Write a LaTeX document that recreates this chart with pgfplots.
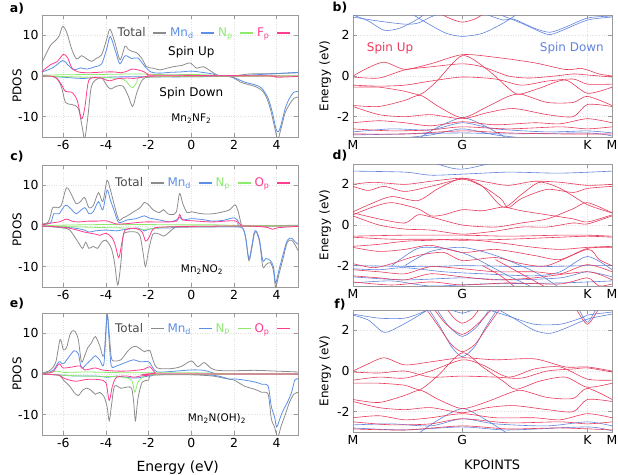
\documentclass[border=0pt]{standalone}
\usepackage{fontspec}
\setmainfont{DejaVu Sans}
\usepackage{pgfplots}
\pgfplotsset{compat=1.18}
\definecolor{ctot}{HTML}{8C8C8C}
\definecolor{ctxt}{HTML}{4A4A4A}
\definecolor{cmn}{HTML}{5B8FE8}
\definecolor{cnp}{HTML}{8CEB6E}
\definecolor{cxp}{HTML}{FF3D8F}
\definecolor{cup}{HTML}{E8395A}
\definecolor{cdn}{HTML}{5F82DC}
\definecolor{cframe}{HTML}{9A9A9A}
\definecolor{cgrid}{HTML}{E0E0E0}
\pgfplotsset{
  base/.style={scale only axis, axis line style={cframe}, tick style={cframe, line width=0.6pt},
    major tick length=4bp, tick align=inside, grid=major, grid style={cgrid, dotted, line width=0.5pt},
    /pgf/number format/assume math mode=true,
    ticklabel style={font=\fontsize{12.5}{14}\selectfont},
    label style={font=\fontsize{12}{14}\selectfont}},
  dos/.style={base, width=256bp, height=122bp, xmin=-7, xmax=5, ymin=-15, ymax=15,
    xtick={-6,-4,-2,0,2,4}, ytick={-10,0,10}, ylabel={PDOS},
    legend columns=4, legend plot pos=right,
    legend style={draw=none, fill=none, font=\fontsize{12}{14}\selectfont,
      /tikz/every even column/.append style={column sep=1bp},
      /tikz/every odd column/.append style={column sep=5bp}},
    legend image code/.code={\draw[##1, line width=1.5pt] (0bp,0bp) -- (13bp,0bp);}},
  band/.style={base, width=259bp, height=122bp, xmin=0, xmax=1, ymin=-3, ymax=3,
    xtick={0,0.422,0.905,1}, xticklabels={M,G,K,M}, ytick={-2,0,2}, ylabel={Energy (eV)},
    ylabel style={at={(axis description cs:-0.108,0.5)}, anchor=center}},
  tot/.style={ctot, line width=0.8pt, smooth, tension=0.5},
  mnd/.style={cmn, line width=0.8pt, smooth, tension=0.5},
  npp/.style={cnp, line width=0.8pt, smooth, tension=0.5},
  xpp/.style={cxp, line width=0.8pt, smooth, tension=0.5},
  up/.style={cup, line width=0.6pt, smooth, tension=0.45},
  dn/.style={cdn, line width=0.6pt, smooth, tension=0.45},
}
\begin{document}
\begin{tikzpicture}
\path[use as bounding box] (0bp,0bp) rectangle (618bp,-475bp);
% panel labels
\node[font=\bfseries\fontsize{12.5}{14}\selectfont] at (17bp,-9bp) {a)};
\node[font=\bfseries\fontsize{12.5}{14}\selectfont] at (17bp,-157bp) {c)};
\node[font=\bfseries\fontsize{12.5}{14}\selectfont] at (17bp,-304bp) {e)};
\node[font=\bfseries\fontsize{12.5}{14}\selectfont] at (340bp,-8bp) {b)};
\node[font=\bfseries\fontsize{12.5}{14}\selectfont] at (340bp,-156bp) {d)};
\node[font=\bfseries\fontsize{12.5}{14}\selectfont] at (340bp,-305bp) {f)};

%================ a) =================
\begin{axis}[dos, at={(42bp,-15bp)}, anchor=north west,
  ylabel style={at={(axis description cs:-0.098,0.42)}, anchor=center},
  legend style={at={(0.985,0.93)}, anchor=north east}]
\addplot[tot] coordinates {(-7.05,2.75)(-6.63,7.3)(-6.39,8.6)(-6.2,9.8)(-6.03,12.2)(-5.84,10.7)(-5.6,6.5)(-5.38,4.2)(-5.14,5.0)(-4.9,4.2)(-4.67,3.6)(-4.44,4.4)(-4.2,5.25)(-3.97,9)(-3.81,11.5)(-3.58,8.2)(-3.34,4)(-3.11,7.3)(-2.95,6.5)(-2.8,6.1)(-2.56,5.7)(-2.33,4.4)(-2.1,2.3)(-1.78,1.9)(-1.47,1.5)(-1.16,1.9)(-0.84,2.3)(-0.45,2.6)(-0.06,3.2)(0.25,1.9)(0.56,2.3)(1.03,0.8)(1.34,0)(1.97,0)(2.75,0.5)(4,0.6)(5,0.8)};
\addlegendentry{\textcolor{ctxt}{Total}}
\addplot[mnd] coordinates {(-7.05,0.9)(-6.5,2.0)(-6.03,3.8)(-5.8,2.8)(-5.5,1.5)(-5.2,2.0)(-4.9,1.7)(-4.5,2.3)(-4.2,3.0)(-3.95,7)(-3.8,9.7)(-3.55,6.0)(-3.35,3.0)(-3.1,5)(-2.8,4.3)(-2.5,4.4)(-2.2,2.5)(-1.9,1.0)(-1.5,0.7)(-1,0.9)(-0.5,1.0)(0,1.2)(0.5,0.9)(1.0,0.5)(1.4,0)(2,0)(3,0.3)(5,0.9)};
\addlegendentry{\textcolor{cmn}{Mn\textsubscript{d}}}
\addplot[npp] coordinates {(-7,0.2)(-6,0.3)(-4,0.4)(-2.5,0.5)(-1,0.3)(0,0.4)(1,0.2)(2,0)(5,0.05)};
\addlegendentry{\textcolor{cnp}{N\textsubscript{p}}}
\addplot[xpp] coordinates {(-7.05,0.9)(-6.6,2.8)(-6.3,3.5)(-6.0,5.3)(-5.8,4.5)(-5.6,2.0)(-5.3,1.0)(-4.8,0.8)(-4.0,1.0)(-3.6,1.0)(-3.3,0.8)(-3.0,1.2)(-2.8,1.7)(-2.5,1.5)(-2.2,1.0)(-2.0,0.3)(-1.5,0.2)(5,0)};
\addlegendentry{\textcolor{cxp}{F\textsubscript{p}}}
\addplot[tot, forget plot] coordinates {(-7.05,0)(-6.4,-0.3)(-6.1,-2.5)(-5.9,-6.5)(-5.6,-7.0)(-5.3,-8.0)(-5.1,-13)(-5.0,-15.5)(-4.85,-10)(-4.7,-3)(-4.5,-1)(-4.2,-0.5)(-4.0,-2.0)(-3.8,-3.2)(-3.5,-2.5)(-3.2,-2.5)(-2.95,-5)(-2.75,-7.5)(-2.55,-4)(-2.3,-1)(-2.0,-0.3)(-1,-0.2)(0,-0.2)(1,-0.1)(1.6,0)(2.0,-0.5)(2.3,-1.5)(2.6,-2.0)(3.0,-2.6)(3.3,-3.5)(3.5,-5)(3.7,-8)(3.9,-12.5)(4.05,-15.5)(4.2,-13)(4.4,-9)(4.6,-7)(4.8,-5.5)(5.0,-5.2)};
\addplot[mnd, forget plot] coordinates {(-7,0)(-6,-0.3)(-5.5,-0.5)(-5,-0.6)(-4.5,-0.3)(-4,-0.3)(-3,-0.2)(0,-0.2)(1.6,0)(2.0,-0.4)(2.5,-1.5)(3.0,-2.2)(3.3,-3)(3.6,-5.5)(3.8,-9)(4.0,-13.5)(4.15,-13)(4.4,-8)(4.6,-5.5)(4.8,-4)(5.0,-3.8)};
\addplot[npp, forget plot] coordinates {(-7,0)(-5,-0.3)(-4,-0.4)(-3.2,-0.8)(-2.95,-2.0)(-2.75,-2.9)(-2.55,-1.5)(-2.3,-0.3)(0,-0.1)(5,0)};
\addplot[xpp, forget plot] coordinates {(-7,0)(-6.4,-0.2)(-6.1,-2.0)(-5.9,-3.8)(-5.6,-4.0)(-5.35,-6)(-5.15,-10.5)(-5.0,-8)(-4.85,-2)(-4.7,-0.5)(-4.2,-0.5)(-4.0,-1.0)(-3.8,-1.2)(-3.5,-0.7)(-3.0,-0.5)(-2.7,-0.6)(-2.3,-0.3)(-1.5,0)(3.5,0)(4,-0.3)(5,-0.1)};
\node[font=\fontsize{12}{14}\selectfont] at (axis cs:0,5.75) {Spin Up};
\node[font=\fontsize{12}{14}\selectfont] at (axis cs:0,-4.2) {Spin Down};
\node[font=\fontsize{10.5}{12}\selectfont] at (axis cs:0,-10.5) {Mn\textsubscript{2}NF\textsubscript{2}};
\end{axis}

%================ c) =================
\begin{axis}[dos, at={(42bp,-165bp)}, anchor=north west,
  ylabel style={at={(axis description cs:-0.098,0.47)}, anchor=center},
  legend style={at={(0.985,0.93)}, anchor=north east}]
\addplot[tot] coordinates {(-7.05,0.5)(-6.7,1.0)(-6.5,4.5)(-6.3,4.5)(-6.1,5)(-5.85,9.4)(-5.6,7.5)(-5.4,5.5)(-5.2,6.0)(-5.0,7)(-4.8,4.5)(-4.6,5)(-4.35,8.2)(-4.15,6)(-3.95,11.2)(-3.8,9)(-3.6,5)(-3.4,1.5)(-3.2,2)(-3.0,2.5)(-2.7,3.5)(-2.4,4.5)(-2.2,5.8)(-2.0,5.2)(-1.8,4)(-1.5,3.3)(-1.3,4.0)(-1.1,3.0)(-0.9,2.8)(-0.7,3.5)(-0.55,8)(-0.4,5.5)(-0.2,3.3)(0,3.5)(0.5,3)(1.0,3)(1.5,3.5)(1.8,4)(2.05,5.2)(2.2,3.5)(2.35,0.3)(2.5,0)(5,0.2)};
\addlegendentry{\textcolor{ctxt}{Total}}
\addplot[mnd] coordinates {(-7.05,0.3)(-6.6,0.8)(-6.45,3.0)(-6.2,3.0)(-5.9,5.1)(-5.6,4.0)(-5.4,3.0)(-5.0,4.5)(-4.8,3.0)(-4.6,3.5)(-4.35,6.0)(-4.15,4.0)(-3.95,8.8)(-3.8,6.5)(-3.6,3.5)(-3.4,0.9)(-3.0,1.5)(-2.6,1.8)(-2.2,2.5)(-2.0,2.0)(-1.5,1.5)(-1.0,1.0)(-0.7,1.5)(-0.55,2.2)(-0.4,1.5)(0,1.8)(0.5,1.6)(1.0,1.2)(1.5,1.4)(2.0,2.0)(2.2,1.2)(2.4,0)(5,0.1)};
\addlegendentry{\textcolor{cmn}{Mn\textsubscript{d}}}
\addplot[npp] coordinates {(-7,0.1)(-5,0.3)(-3,0.4)(-1,0.3)(1,0.3)(2.4,0.1)(5,0)};
\addlegendentry{\textcolor{cnp}{N\textsubscript{p}}}
\addplot[xpp] coordinates {(-7.05,0.2)(-6.5,0.8)(-6.2,1.0)(-5.85,1.7)(-5.6,1.2)(-5.3,1.0)(-4.8,1.2)(-4.4,1.2)(-4.0,1.3)(-3.5,0.5)(-3.0,0.6)(-2.2,1.0)(-1.5,1.0)(-0.7,1.2)(-0.55,2.8)(-0.4,1.5)(0,1.3)(1.0,1.0)(2.0,1.3)(2.3,0.4)(2.5,0)(5,0)};
\addlegendentry{\textcolor{cxp}{O\textsubscript{p}}}
\addplot[tot, forget plot] coordinates {(-7.05,0)(-6.5,-0.2)(-6.0,-0.5)(-5.7,-1)(-5.3,-4)(-5.1,-5.5)(-4.95,-4)(-4.8,-5.5)(-4.6,-5)(-4.4,-5.5)(-4.2,-4)(-4.0,-3.5)(-3.75,-5.5)(-3.6,-9)(-3.45,-14.5)(-3.3,-9)(-3.2,-2.5)(-3.0,-1.5)(-2.6,-1.5)(-2.4,-2.5)(-2.25,-7)(-2.15,-10)(-2.0,-6)(-1.8,-2)(-1.5,-2)(-1.3,-2.5)(-1.1,-1.8)(-0.8,-0.5)(-0.5,-0.3)(2.0,-0.2)(2.4,-0.5)(2.55,-3)(2.7,-8.5)(2.85,-5)(2.95,-2)(3.05,-1.5)(3.2,-4)(3.35,-10)(3.5,-9.5)(3.7,-9)(3.85,-11)(3.95,-15)(4.1,-12)(4.3,-8)(4.5,-4)(4.7,-3.5)(4.85,-4.5)(5.0,-6)};
\addplot[mnd, forget plot] coordinates {(-7,0)(-6,-0.3)(-5.5,-0.5)(-5,-1)(-4.8,-1.5)(-4.5,-1.2)(-4.0,-1.0)(-3.5,-1.2)(-3.3,-1.0)(-3.0,-0.8)(-2.5,-0.5)(-2.2,-1.2)(-2.0,-0.8)(-1.5,-0.5)(-1.0,-0.5)(-0.5,-0.2)(2.0,-0.2)(2.4,-0.5)(2.55,-3)(2.7,-8)(2.85,-4.5)(2.95,-1.5)(3.05,-1.3)(3.2,-3.5)(3.35,-8.5)(3.5,-8)(3.7,-8.5)(3.85,-10)(3.95,-14)(4.1,-11)(4.3,-7)(4.5,-3.5)(4.7,-3)(4.85,-3.8)(5.0,-4.5)};
\addplot[npp, forget plot] coordinates {(-7,0)(-4,-0.4)(-3,-0.5)(-2.2,-0.8)(-1,-0.2)(0,0)(5,0)};
\addplot[xpp, forget plot] coordinates {(-7,0)(-6,-0.3)(-5.5,-0.8)(-5,-1.5)(-4.5,-2.0)(-4.3,-2.3)(-4.0,-1.8)(-3.7,-3.0)(-3.55,-5)(-3.4,-7.8)(-3.25,-4)(-3.1,-1)(-2.6,-0.6)(-2.3,-1.5)(-2.15,-3.7)(-2.0,-3.0)(-1.8,-0.8)(-1.5,-0.3)(0,-0.1)(2.5,0)(3.5,-0.3)(3.8,-0.8)(4.1,-0.4)(5,-0.1)};
\node[font=\fontsize{10.5}{12}\selectfont] at (axis cs:0.5,-10.7) {Mn\textsubscript{2}NO\textsubscript{2}};
\end{axis}

%================ e) =================
\begin{axis}[dos, at={(42bp,-313bp)}, anchor=north west,
  ylabel style={at={(axis description cs:-0.098,0.5)}, anchor=center},
  xlabel={Energy (eV)},
  xlabel style={at={(axis description cs:0.53,-0.267)}, anchor=center, font=\fontsize{14}{16}\selectfont},
  legend style={at={(0.985,0.95)}, anchor=north east}]
\addplot[tot] coordinates {(-7,0.2)(-6.6,1.0)(-6.35,3.0)(-6.15,8.5)(-6.0,6.0)(-5.85,6.5)(-5.7,9.5)(-5.6,10.5)(-5.45,10.5)(-5.3,8.5)(-5.15,3)(-5.0,4.5)(-4.85,6.5)(-4.7,7.5)(-4.5,9.2)(-4.3,7.0)(-4.1,4.5)(-3.95,14.5)(-3.85,10)(-3.75,4)(-3.6,3.2)(-3.3,3.5)(-3.0,5.5)(-2.8,6.5)(-2.6,6.8)(-2.4,6.2)(-2.2,5.5)(-1.95,5.8)(-1.8,3.5)(-1.6,1.5)(-1.0,1.3)(-0.5,1.8)(0.0,3.2)(0.3,1.8)(0.6,2.8)(0.9,1.5)(1.1,1.0)(1.5,0.8)(2,0.8)(3,0.9)(4,0.7)(5,0.5)};
\addlegendentry{\textcolor{ctxt}{Total}}
\addplot[mnd] coordinates {(-7,0.1)(-6.5,0.8)(-6.2,3.0)(-6.0,2.5)(-5.7,4.5)(-5.5,5.7)(-5.3,5)(-5.15,1.5)(-4.9,2.5)(-4.7,3.5)(-4.5,4.5)(-4.3,3.5)(-4.1,2.5)(-3.95,14.5)(-3.85,8)(-3.75,2)(-3.5,2.0)(-3.0,3)(-2.7,3.5)(-2.4,3.0)(-2.0,3.0)(-1.8,1.5)(-1.6,0.5)(-1.0,0.6)(0,1.0)(0.6,0.9)(1.0,0.3)(1.5,0)(5,0)};
\addlegendentry{\textcolor{cmn}{Mn\textsubscript{d}}}
\addplot[npp] coordinates {(-7,0)(-6.3,0.7)(-6.0,0.4)(-5,0.5)(-4,0.4)(-3,0.3)(-2,0.3)(-1,0.3)(0,0.3)(1,0.2)(2,0)(5,0)};
\addlegendentry{\textcolor{cnp}{N\textsubscript{p}}}
\addplot[xpp] coordinates {(-7,0.1)(-6.5,0.5)(-6.2,2.5)(-6.0,1.5)(-5.5,1.8)(-5.2,2.0)(-5.0,1.0)(-4.5,1.5)(-4.2,1.0)(-3.8,0.8)(-3.3,0.7)(-2.8,0.8)(-2.2,1.2)(-1.95,1.8)(-1.7,0.3)(-1.5,0)(5,0)};
\addlegendentry{\textcolor{cxp}{O\textsubscript{p}}}
\addplot[tot, forget plot] coordinates {(-7,0)(-6.2,-0.3)(-6.0,-1.5)(-5.7,-3)(-5.5,-4.5)(-5.3,-5.3)(-5.1,-4.0)(-4.9,-3.5)(-4.7,-4)(-4.5,-5)(-4.3,-4.5)(-4.1,-5.5)(-3.95,-8)(-3.85,-11.5)(-3.75,-8)(-3.6,-3)(-3.3,-3.5)(-3.0,-3.2)(-2.8,-3.5)(-2.7,-7)(-2.62,-11.5)(-2.5,-6)(-2.3,-2)(-2.0,-1.5)(-1.8,-0.3)(0,-0.2)(1.0,-0.5)(1.5,-1.0)(2.0,-1.5)(2.5,-3.0)(3.0,-3.8)(3.3,-4.5)(3.6,-5)(3.75,-11)(3.9,-13)(4.05,-15.5)(4.2,-13)(4.4,-10)(4.6,-7)(4.8,-5)(5,-4.5)};
\addplot[mnd, forget plot] coordinates {(-7,0)(-6,-0.3)(-5.5,-0.5)(-4.5,-0.5)(-3.9,-0.8)(-3.5,-0.5)(-2.7,-1.0)(-2.0,-0.5)(-1.8,-0.2)(0,-0.1)(1.0,-0.3)(1.5,-0.8)(1.8,-1.3)(2.0,-1.2)(2.5,-1.5)(3.0,-2)(3.3,-2.5)(3.6,-3.0)(3.75,-8)(3.9,-10.5)(4.0,-13)(4.15,-11)(4.3,-9)(4.5,-7)(4.7,-4.5)(4.85,-1.5)(5,-1.2)};
\addplot[npp, forget plot] coordinates {(-7,0)(-6,-0.3)(-5,-0.5)(-4,-0.6)(-3.2,-0.8)(-2.8,-1.5)(-2.65,-4.5)(-2.5,-2)(-2.2,-0.5)(-1.8,-0.1)(5,0)};
\addplot[xpp, forget plot] coordinates {(-7,0)(-6.2,-0.3)(-6.0,-1.0)(-5.7,-1.5)(-5.4,-1.8)(-5.1,-1.5)(-4.8,-1.3)(-4.3,-1.4)(-4.0,-2.2)(-3.85,-6.5)(-3.7,-3)(-3.5,-0.8)(-3.0,-0.5)(-2.7,-0.8)(-2.4,-0.5)(-2.0,-0.3)(-1.8,0)(5,0)};
\node[font=\fontsize{10.5}{12}\selectfont] at (axis cs:1.2,-11) {Mn\textsubscript{2}N(OH)\textsubscript{2}};
\end{axis}

%================ b) =================
\begin{axis}[band, at={(353bp,-15bp)}, anchor=north west]
\addplot[dn] coordinates {(0,3.0)(0.06,2.7)(0.12,2.25)(0.18,2.35)(0.25,2.8)(0.28,3.1)};
\addplot[dn] coordinates {(0,2.9)(0.1,2.7)(0.2,2.55)(0.25,2.6)(0.3,2.9)(0.34,3.1)};
\addplot[dn] coordinates {(0.22,3.1)(0.3,2.5)(0.36,2.1)(0.422,1.95)(0.5,2.1)(0.58,2.6)(0.64,3.1)};
\addplot[dn] coordinates {(0.5,3.1)(0.58,2.75)(0.62,2.8)(0.7,2.35)(0.76,2.15)(0.82,2.4)(0.905,2.85)(1,2.95)};
\addplot[dn] coordinates {(0.55,3.1)(0.65,2.6)(0.75,2.05)(0.8,2.2)(0.905,2.75)(1,2.9)};
\addplot[dn] coordinates {(0.25,-3.1)(0.33,-2.5)(0.422,-2.05)(0.5,-2.4)(0.6,-3.1)};
\addplot[dn] coordinates {(0,-2.75)(0.15,-2.6)(0.3,-2.65)(0.422,-2.3)(0.55,-2.6)(0.75,-2.75)(0.905,-2.7)(1,-2.8)};
\addplot[dn] coordinates {(0,-2.9)(0.2,-2.85)(0.422,-2.8)(0.6,-2.85)(0.905,-2.8)(1,-2.95)};
\addplot[dn] coordinates {(0.15,-3.1)(0.3,-2.9)(0.422,-2.6)(0.55,-2.9)(0.7,-3.1)};
\addplot[up] coordinates {(0.33,3.1)(0.38,2.8)(0.422,2.65)(0.47,2.8)(0.51,3.1)};
\addplot[up] coordinates {(0,0.0)(0.05,0.35)(0.12,0.68)(0.2,0.33)(0.3,0.6)(0.422,1.05)(0.55,0.92)(0.7,0.65)(0.82,0.32)(0.88,0.38)(0.905,0.3)(0.95,0.1)(1,0.0)};
\addplot[up] coordinates {(0,-0.05)(0.1,-0.1)(0.2,0.3)(0.3,0.45)(0.422,0.6)(0.5,0.45)(0.6,0.0)(0.68,-0.1)(0.78,0.0)(0.85,0.1)(0.905,0.05)(1,-0.05)};
\addplot[up] coordinates {(0,-0.45)(0.1,-0.5)(0.2,-0.45)(0.3,-0.25)(0.422,-0.05)(0.55,-0.15)(0.65,-0.45)(0.75,-0.25)(0.85,-0.15)(0.905,-0.4)(1,-0.4)};
\addplot[up] coordinates {(0,-0.55)(0.1,-0.55)(0.2,-0.75)(0.26,-0.9)(0.32,-0.3)(0.422,1.0)(0.52,0.3)(0.6,-0.6)(0.64,-0.9)(0.72,-0.6)(0.82,-0.2)(0.905,-0.85)(1,-0.55)};
\addplot[up] coordinates {(0,-1.45)(0.1,-1.5)(0.2,-1.2)(0.26,-0.95)(0.33,-1.5)(0.422,-2.05)(0.52,-1.5)(0.6,-1.0)(0.65,-0.9)(0.75,-1.3)(0.85,-1.3)(0.905,-1.0)(1,-1.45)};
\addplot[up] coordinates {(0,-1.5)(0.1,-1.9)(0.2,-2.0)(0.3,-1.9)(0.422,-2.1)(0.52,-1.8)(0.62,-1.6)(0.75,-1.9)(0.85,-2.0)(0.905,-1.4)(1,-1.5)};
\addplot[up] coordinates {(0,-2.3)(0.1,-2.2)(0.2,-2.3)(0.3,-2.45)(0.422,-2.25)(0.55,-2.4)(0.7,-2.3)(0.8,-2.35)(0.905,-2.1)(1,-2.3)};
\addplot[up] coordinates {(0,-2.6)(0.15,-2.7)(0.3,-2.65)(0.422,-2.5)(0.6,-2.6)(0.8,-2.5)(0.905,-2.6)(1,-2.5)};
\addplot[up] coordinates {(0,-2.85)(0.2,-2.85)(0.422,-2.7)(0.6,-2.8)(0.8,-2.85)(1,-2.85)};
\node[cup, font=\fontsize{12}{14}\selectfont] at (axis cs:0.143,1.38) {Spin Up};
\node[cdn, font=\fontsize{12}{14}\selectfont] at (axis cs:0.845,1.38) {Spin Down};
\end{axis}

%================ d) =================
\begin{axis}[band, at={(353bp,-164bp)}, anchor=north west]
\addplot[dn] coordinates {(0,2.65)(0.2,2.6)(0.3,2.45)(0.422,2.5)(0.6,2.6)(0.8,2.55)(1,2.65)};
\addplot[dn] coordinates {(0.3,3.1)(0.38,2.8)(0.422,2.75)(0.47,2.85)(0.55,3.1)};
\addplot[dn] coordinates {(0.2,-2.0)(0.3,-1.3)(0.422,-1.1)(0.55,-1.5)(0.7,-2.3)(0.8,-3.1)};
\addplot[dn] coordinates {(0.15,-2.0)(0.25,-1.15)(0.35,-1.15)(0.45,-1.5)(0.6,-2.5)(0.7,-3.1)};
\addplot[dn] coordinates {(0,-2.0)(0.3,-2.05)(0.422,-2.0)(0.7,-2.05)(0.905,-2.0)(1,-2.0)};
\addplot[dn] coordinates {(0,-2.15)(0.1,-2.2)(0.2,-2.1)(0.35,-2.3)(0.5,-2.4)(0.7,-2.5)(0.8,-2.3)(0.905,-1.55)(1,-2.2)};
\addplot[dn] coordinates {(0,-2.55)(0.2,-2.7)(0.422,-2.6)(0.6,-2.7)(0.8,-2.6)(0.905,-2.3)(1,-2.55)};
\addplot[dn] coordinates {(0,-2.85)(0.15,-2.75)(0.3,-3.0)(0.5,-2.9)(0.8,-2.85)(1,-2.75)};
\addplot[up] coordinates {(0,2.0)(0.08,2.1)(0.2,2.0)(0.3,2.15)(0.422,2.3)(0.52,2.1)(0.6,1.95)(0.7,2.15)(0.8,2.1)(0.905,1.95)(1,2.0)};
\addplot[up] coordinates {(0,1.9)(0.06,1.7)(0.12,1.9)(0.2,1.65)(0.3,1.9)(0.422,2.25)(0.5,1.9)(0.57,1.3)(0.6,0.85)(0.65,1.3)(0.75,1.75)(0.85,1.6)(0.905,1.8)(1,1.9)};
\addplot[up] coordinates {(0,0.65)(0.08,1.1)(0.15,1.4)(0.25,1.2)(0.33,1.8)(0.422,2.3)(0.5,1.9)(0.58,0.88)(0.65,1.5)(0.72,2.1)(0.8,1.8)(0.905,1.0)(1,0.6)};
\addplot[up] coordinates {(0,0.5)(0.08,0.9)(0.15,1.1)(0.25,0.8)(0.3,0.45)(0.35,0.5)(0.422,0.75)(0.5,0.7)(0.58,0.88)(0.65,0.7)(0.75,0.5)(0.85,0.3)(0.905,0.15)(1,0.5)};
\addplot[up] coordinates {(0,0.6)(0.1,0.3)(0.2,0.1)(0.25,0.5)(0.3,0.4)(0.422,0.0)(0.55,-0.1)(0.65,0.1)(0.75,0.3)(0.85,0.8)(0.905,1.1)(1,0.6)};
\addplot[up] coordinates {(0,0.45)(0.1,0.0)(0.2,-0.2)(0.3,-0.25)(0.422,-0.45)(0.55,-0.3)(0.65,-0.1)(0.75,-0.1)(0.85,0.1)(0.905,0.05)(1,0.45)};
\addplot[up] coordinates {(0,-0.55)(0.2,-0.5)(0.422,-0.5)(0.6,-0.55)(0.8,-0.5)(0.905,-0.5)(1,-0.55)};
\addplot[up] coordinates {(0,-0.6)(0.15,-0.7)(0.3,-0.7)(0.422,-0.75)(0.6,-0.7)(0.8,-0.6)(0.905,-0.55)(1,-0.6)};
\addplot[up] coordinates {(0,-1.05)(0.1,-0.95)(0.2,-0.8)(0.3,-0.75)(0.422,-0.7)(0.55,-0.85)(0.7,-1.1)(0.8,-1.2)(0.905,-1.1)(1,-1.05)};
\addplot[up] coordinates {(0,-1.1)(0.1,-1.3)(0.2,-1.2)(0.3,-1.0)(0.422,-1.35)(0.55,-1.2)(0.7,-1.5)(0.8,-1.7)(0.905,-1.15)(1,-1.1)};
\addplot[up] coordinates {(0,-1.9)(0.08,-2.1)(0.15,-1.9)(0.25,-1.5)(0.35,-1.35)(0.422,-1.75)(0.55,-1.6)(0.65,-1.9)(0.75,-2.0)(0.905,-1.2)(0.95,-1.7)(1,-2.0)};
\addplot[up] coordinates {(0,-2.2)(0.1,-2.3)(0.2,-2.4)(0.3,-2.05)(0.422,-2.15)(0.55,-2.3)(0.7,-2.3)(0.8,-2.4)(0.905,-1.95)(1,-2.3)};
\addplot[up] coordinates {(0,-2.5)(0.1,-2.6)(0.2,-2.7)(0.3,-2.4)(0.422,-2.55)(0.55,-2.7)(0.7,-2.6)(0.905,-2.3)(1,-2.7)};
\addplot[up] coordinates {(0,-2.8)(0.15,-2.95)(0.3,-2.8)(0.422,-2.95)(0.6,-2.85)(0.8,-2.9)(0.905,-2.6)(0.95,-3.0)(1,-2.9)};
\addplot[up] coordinates {(0.5,-2.0)(0.57,-2.5)(0.63,-3.1)};
\addplot[up] coordinates {(0.55,-1.7)(0.65,-2.4)(0.75,-3.1)};
\end{axis}

%================ f) =================
\begin{axis}[band, at={(353bp,-310bp)}, anchor=north west,
  xlabel={KPOINTS},
  xlabel style={at={(axis description cs:0.537,-0.27)}, anchor=center, font=\fontsize{13}{15}\selectfont}]
\addplot[dn] coordinates {(0.29,3.1)(0.34,2.1)(0.38,1.2)(0.422,0.7)(0.47,1.2)(0.51,2.1)(0.56,3.1)};
\addplot[dn] coordinates {(0.32,3.1)(0.37,2.2)(0.422,1.7)(0.48,2.2)(0.53,3.1)};
\addplot[dn] coordinates {(0.36,3.1)(0.422,2.85)(0.48,3.1)};
\addplot[dn] coordinates {(0,2.75)(0.06,2.5)(0.12,1.9)(0.18,2.2)(0.25,2.7)(0.3,3.1)};
\addplot[dn] coordinates {(0,2.8)(0.1,2.6)(0.2,2.6)(0.27,2.9)(0.3,3.1)};
\addplot[dn] coordinates {(0.55,3.1)(0.62,2.6)(0.7,2.0)(0.76,1.85)(0.82,2.1)(0.905,2.55)(1,2.8)};
\addplot[dn] coordinates {(0.5,3.1)(0.6,2.7)(0.7,2.3)(0.8,2.3)(0.88,2.6)(0.905,2.75)(1,2.9)};
\addplot[dn] coordinates {(0.87,3.1)(0.905,2.4)(0.94,3.1)};
\addplot[dn] coordinates {(0.25,-3.1)(0.33,-2.4)(0.422,-1.85)(0.5,-2.3)(0.6,-3.1)};
\addplot[dn] coordinates {(0,-2.65)(0.15,-2.6)(0.3,-2.7)(0.422,-2.35)(0.55,-2.6)(0.75,-2.7)(0.905,-2.5)(1,-2.7)};
\addplot[dn] coordinates {(0,-2.8)(0.2,-2.9)(0.422,-2.75)(0.6,-2.9)(0.905,-2.75)(1,-2.95)};
\addplot[up] coordinates {(0.28,3.1)(0.33,2.2)(0.38,1.3)(0.422,0.95)(0.47,1.3)(0.52,2.2)(0.57,3.1)};
\addplot[up] coordinates {(0.31,3.1)(0.36,2.3)(0.422,1.8)(0.48,2.3)(0.54,3.1)};
\addplot[up] coordinates {(0.36,3.1)(0.39,2.6)(0.422,2.35)(0.46,2.6)(0.49,3.1)};
\addplot[up] coordinates {(0.86,3.1)(0.905,2.3)(0.95,3.1)};
\addplot[up] coordinates {(0,0.0)(0.05,0.3)(0.12,0.65)(0.2,0.3)(0.3,0.45)(0.422,0.65)(0.55,0.55)(0.7,0.6)(0.82,0.2)(0.905,0.2)(1,0.0)};
\addplot[up] coordinates {(0,-0.05)(0.1,-0.1)(0.2,0.0)(0.3,-0.3)(0.422,-0.25)(0.55,-0.3)(0.65,-0.35)(0.75,0.0)(0.85,0.1)(0.905,0.15)(1,-0.05)};
\addplot[up] coordinates {(0,-0.45)(0.1,-0.3)(0.2,-0.35)(0.3,0.0)(0.422,0.55)(0.5,0.3)(0.6,-0.3)(0.7,0.1)(0.8,0.2)(0.905,-0.4)(1,-0.45)};
\addplot[up] coordinates {(0,-0.6)(0.1,-0.6)(0.2,-0.7)(0.26,-0.9)(0.33,-0.2)(0.422,0.9)(0.5,0.2)(0.58,-0.5)(0.63,-0.9)(0.72,-0.5)(0.82,-0.3)(0.905,-0.8)(1,-0.6)};
\addplot[up] coordinates {(0,-1.4)(0.1,-1.55)(0.2,-1.2)(0.26,-0.95)(0.33,-1.4)(0.422,-1.85)(0.52,-1.5)(0.6,-1.1)(0.65,-0.95)(0.75,-1.3)(0.85,-1.35)(0.905,-0.85)(1,-1.4)};
\addplot[up] coordinates {(0,-1.5)(0.1,-1.8)(0.2,-1.9)(0.3,-1.8)(0.422,-2.05)(0.52,-1.8)(0.62,-1.7)(0.75,-1.9)(0.85,-2.0)(0.905,-1.4)(1,-1.5)};
\addplot[up] coordinates {(0,-2.3)(0.1,-2.2)(0.2,-2.4)(0.3,-2.3)(0.422,-2.1)(0.55,-2.3)(0.7,-2.3)(0.8,-2.4)(0.905,-2.1)(1,-2.3)};
\addplot[up] coordinates {(0,-2.5)(0.15,-2.65)(0.3,-2.6)(0.422,-2.35)(0.6,-2.55)(0.8,-2.5)(0.905,-2.6)(1,-2.5)};
\addplot[up] coordinates {(0,-2.85)(0.2,-2.9)(0.422,-2.7)(0.6,-2.85)(0.8,-2.8)(1,-2.9)};
\end{axis}
\end{tikzpicture}
\end{document}
